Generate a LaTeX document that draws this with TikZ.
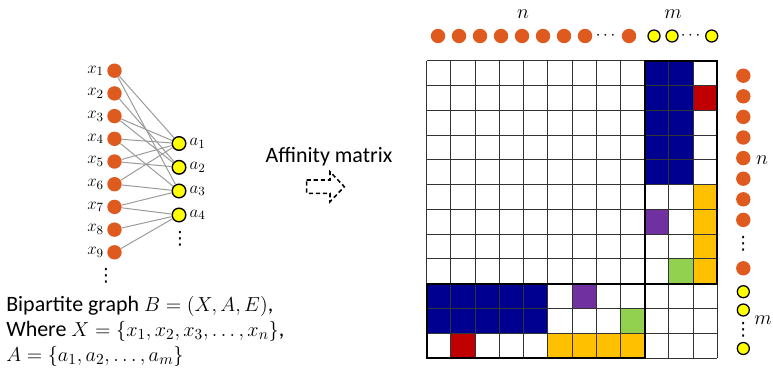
\documentclass[tikz,border=0pt]{standalone}
\usepackage{fontspec}
\setmainfont{Carlito}
\newfontfamily\dotsfont{DejaVu Sans}
\usepackage{amsmath}
\usetikzlibrary{positioning}
\definecolor{DotOrange}{HTML}{DE5A1F}
\definecolor{DotYellow}{HTML}{FFFF00}
\definecolor{CellBlue}{HTML}{000090}
\definecolor{CellRed}{HTML}{C00000}
\definecolor{CellGold}{HTML}{FFC000}
\definecolor{CellPurple}{HTML}{7030A0}
\definecolor{CellGreen}{HTML}{92D050}
\definecolor{EdgeGray}{HTML}{9A9A9A}

% grid origin and cell size (in px units of the picture)
\def\gx{426.7}
\def\gy{60.7}
\def\cw{24.22}
\def\ch{24.78}
\newcommand{\paintcell}[3]{\fill[#3] ({\gx+(#2-1)*\cw},{\gy+(#1-1)*\ch}) rectangle ++(\cw,\ch);}

\begin{document}
\begin{tikzpicture}[x=0.025cm, y=-0.025cm,
  xdot/.style={circle, fill=DotOrange, inner sep=0pt, minimum size=0.36cm},
  adot/.style={circle, draw=black, line width=1pt, fill=DotYellow, inner sep=0pt, minimum size=0.34cm},
  odot/.style={circle, fill=DotOrange, inner sep=0pt, minimum size=0.36cm},
  ydot/.style={circle, draw=black, line width=0.9pt, fill=DotYellow, inner sep=0pt, minimum size=0.3cm},
  edge/.style={EdgeGray, line width=0.7pt},
  lbl/.style={font=\fontsize{12.5}{14}\selectfont, inner sep=1pt},
  more/.style={font=\dotsfont\fontsize{13}{14}\selectfont, inner sep=0pt},
  big/.style={font=\fontsize{15.6}{17.6}\selectfont},
  cell/.style={black!80, line width=0.7pt},
  block/.style={black, line width=1.5pt}
]
\useasboundingbox (0,0) rectangle (773,368);

% bipartite graph
\node[xdot, label={[lbl, label distance=1pt]left:$x_1$}] (x1) at (114.5,70.7) {};
\node[xdot, label={[lbl, label distance=1pt]left:$x_2$}] (x2) at (114.5,93.4) {};
\node[xdot, label={[lbl, label distance=1pt]left:$x_3$}] (x3) at (114.5,116.1) {};
\node[xdot, label={[lbl, label distance=1pt]left:$x_4$}] (x4) at (114.5,138.8) {};
\node[xdot, label={[lbl, label distance=1pt]left:$x_5$}] (x5) at (114.5,161.5) {};
\node[xdot, label={[lbl, label distance=1pt]left:$x_6$}] (x6) at (114.5,184.2) {};
\node[xdot, label={[lbl, label distance=1pt]left:$x_7$}] (x7) at (114.5,206.9) {};
\node[xdot, label={[lbl, label distance=1pt]left:$x_8$}] (x8) at (114.5,229.6) {};
\node[xdot, label={[lbl, label distance=1pt]left:$x_9$}] (x9) at (114.5,252.3) {};
\node[more] (xmore) at (106,276) {⋮};
\node[adot, label={[lbl, label distance=1pt]right:$a_1$}] (a1) at (179,143.5) {};
\node[adot, label={[lbl, label distance=1pt]right:$a_2$}] (a2) at (179,167.3) {};
\node[adot, label={[lbl, label distance=1pt]right:$a_3$}] (a3) at (179,191) {};
\node[adot, label={[lbl, label distance=1pt]right:$a_4$}] (a4) at (179,215) {};
\node[more] (amore) at (180,239) {⋮};
\draw[edge] (x1) -- (a1);
\draw[edge] (x1) -- (a3);
\draw[edge] (x2) -- (a2);
\draw[edge] (x3) -- (a1);
\draw[edge] (x3) -- (a2);
\draw[edge] (x4) -- (a1);
\draw[edge] (x4) -- (a3);
\draw[edge] (x5) -- (a1);
\draw[edge] (x5) -- (a2);
\draw[edge] (x6) -- (a1);
\draw[edge] (x6) -- (a3);
\draw[edge] (x7) -- (a3);
\draw[edge] (x7) -- (a4);
\draw[edge] (x8) -- (a4);
\draw[edge] (x9) -- (a4);

\node[big, anchor=north west, align=left, inner sep=0pt] (caption) at (6,296)
  {Bipartite graph $B=(X,A,E)$,\\
   Where $X=\{x_1,x_2,x_3,\dots,x_n\}$,\\
   $A=\{a_1,a_2,\dots,a_m\}$};

% affinity arrow
\node[big] (aff) at (329,157) {Affinity matrix};
\draw[line width=1.1pt, dash pattern=on 3pt off 2pt]
  (306.7,180) -- (330,180) -- (330,171.7) -- (344.3,186.7) -- (330,201.7)
  -- (330,193.3) -- (306.7,193.3) -- cycle;

% column markers
\node[odot] (t1) at (438,36) {};
\node[odot] (t2) at (459,36) {};
\node[odot] (t3) at (480,36) {};
\node[odot] (t4) at (501,36) {};
\node[odot] (t5) at (522,36) {};
\node[odot] (t6) at (543,36) {};
\node[odot] (t7) at (564,36) {};
\node[odot] (t8) at (585,36) {};
\node[lbl] (tdots) at (607,36) {$\cdots$};
\node[odot] (tn) at (629,36) {};
\node[ydot] (u1) at (654,36) {};
\node[ydot] (u2) at (672,36) {};
\node[lbl] (udots) at (692,36) {$\cdots$};
\node[ydot] (um) at (711.7,36) {};
\node[font=\fontsize{14}{16}\selectfont] (ntop) at (523,14) {$n$};
\node[font=\fontsize{14}{16}\selectfont] (mtop) at (673,14) {$m$};

% row markers
\node[odot] (r1) at (743.3,75.7) {};
\node[odot] (r2) at (743.3,96.3) {};
\node[odot] (r3) at (743.3,116.9) {};
\node[odot] (r4) at (743.3,137.5) {};
\node[odot] (r5) at (743.3,158.1) {};
\node[odot] (r6) at (743.3,178.7) {};
\node[odot] (r7) at (743.3,199.3) {};
\node[odot] (r8) at (743.3,219.9) {};
\node[more] (rdots) at (743.3,244) {⋮};
\node[odot] (rn) at (743.3,268.3) {};
\node[ydot] (v1) at (743.3,291.7) {};
\node[ydot] (v2) at (743.3,310) {};
\node[more] (vdots) at (743.3,329.5) {⋮};
\node[ydot] (vm) at (743.3,348.5) {};
\node[font=\fontsize{14}{16}\selectfont] (nside) at (762,160) {$n$};
\node[font=\fontsize{14}{16}\selectfont] (mside) at (763,320) {$m$};

% affinity matrix cells
\fill[CellBlue] ({\gx+9*\cw},\gy) rectangle ({\gx+11*\cw},{\gy+5*\ch});
\fill[CellBlue] (\gx,{\gy+9*\ch}) rectangle ({\gx+5*\cw},{\gy+11*\ch});
\paintcell{2}{12}{CellRed}
\paintcell{12}{2}{CellRed}
\paintcell{6}{12}{CellGold}
\paintcell{7}{12}{CellGold}
\paintcell{8}{12}{CellGold}
\paintcell{9}{12}{CellGold}
\paintcell{12}{6}{CellGold}
\paintcell{12}{7}{CellGold}
\paintcell{12}{8}{CellGold}
\paintcell{12}{9}{CellGold}
\paintcell{7}{10}{CellPurple}
\paintcell{10}{7}{CellPurple}
\paintcell{9}{11}{CellGreen}
\paintcell{11}{9}{CellGreen}
\foreach \k in {0,...,12} {
  \draw[cell] ({\gx+\k*\cw},\gy) -- ++(0,{12*\ch});
  \draw[cell] (\gx,{\gy+\k*\ch}) -- ++({12*\cw},0);
}
\draw[block] ({\gx+9*\cw},\gy) rectangle ({\gx+12*\cw},{\gy+9*\ch});
\draw[block] (\gx,{\gy+9*\ch}) rectangle ({\gx+9*\cw},{\gy+12*\ch});
\end{tikzpicture}
\end{document}
